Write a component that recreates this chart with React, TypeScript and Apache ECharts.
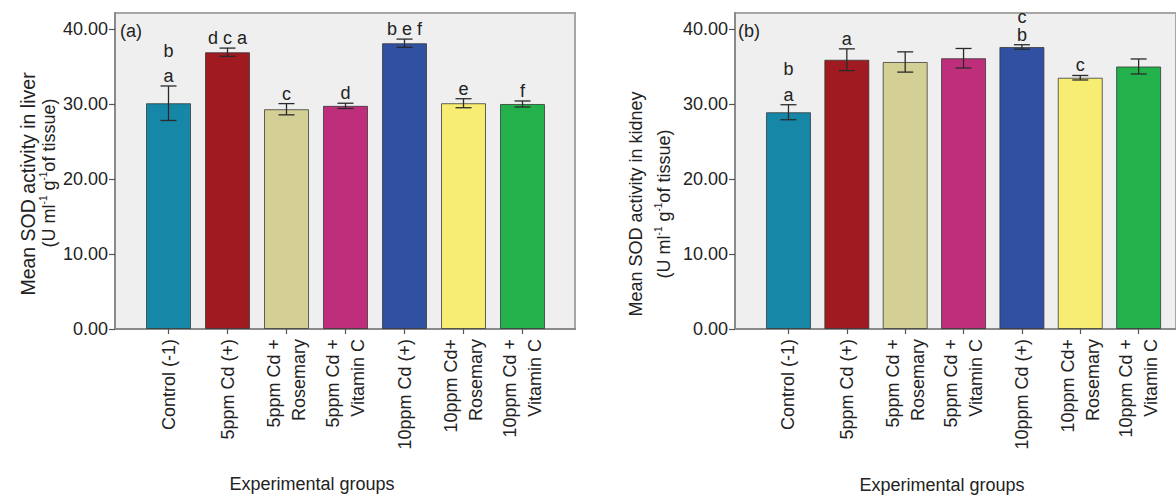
import React, { useEffect, useRef } from 'react';
import * as echarts from 'echarts';

const categories = [
  'Control (-1)',
  '5ppm Cd (+)',
  '5ppm Cd +\nRosemary',
  '5ppm Cd +\nVitamin C',
  '10ppm Cd (+)',
  '10ppm Cd+\nRosemary',
  '10ppm Cd +\nVitamin C',
];
const barColors = ['#1787a8', '#a01b21', '#d4cf94', '#be2e7b', '#3051a2', '#f8ed73', '#22b14b'];

const liverMeans = [30.1, 36.9, 29.3, 29.75, 38.1, 30.1, 30.0];
const liverErrors = [2.3, 0.55, 0.75, 0.35, 0.55, 0.6, 0.4];
const liverLettersLow = ['a', 'd c a', 'c', 'd', 'b e f', 'e', 'f'];
const liverLettersHigh = ['b', '', '', '', '', '', ''];

const kidneyMeans = [28.9, 35.9, 35.6, 36.1, 37.6, 33.5, 35.0];
const kidneyErrors = [1.0, 1.45, 1.35, 1.3, 0.3, 0.3, 1.0];
const kidneyLettersLow = ['a', 'a', '', '', 'b', 'c', ''];
const kidneyLettersHigh = ['b', '', '', '', 'c', '', ''];

const yTicks = [0, 10, 20, 30, 40];
const yMax = 42.13;

// layout/style (not data)
const liverStackGaps = [25, 0, 0, 0, 0, 0, 0];
const kidneyStackGaps = [26, 0, 0, 0, 18, 0, 0];
const FONT = "'Liberation Sans', Arial, sans-serif";
const TXT = '#222';

function makeErrRender(low: string[], high: string[], gaps: number[]) {
  return (params: any, api: any) => {
    const idx = params.dataIndex;
    const i = api.value(0);
    const lo = api.value(1);
    const hi = api.value(2);
    const top = api.coord([i, hi]);
    const bot = api.coord([i, lo]);
    const x = top[0];
    const cw = 8;
    const ls = { stroke: '#2a2a2a', lineWidth: 1.3 };
    const children: any[] = [
      { type: 'line', shape: { x1: x, y1: top[1], x2: x, y2: bot[1] }, style: ls },
      { type: 'line', shape: { x1: x - cw, y1: top[1], x2: x + cw, y2: top[1] }, style: ls },
      { type: 'line', shape: { x1: x - cw, y1: bot[1], x2: x + cw, y2: bot[1] }, style: ls },
    ];
    const ts = { fill: TXT, fontSize: 18, lineHeight: 14, fontFamily: FONT, align: 'center', verticalAlign: 'bottom' };
    if (low[idx]) {
      children.push({ type: 'text', x, y: top[1] - 3, style: { ...ts, text: low[idx] } });
    }
    if (high[idx]) {
      children.push({ type: 'text', x, y: top[1] - 3 - gaps[idx], style: { ...ts, text: high[idx] } });
    }
    return { type: 'group', children };
  };
}

function boxAxes(gridIndex: number) {
  return {
    x: {
      type: 'category', gridIndex, data: [''],
      axisLine: { show: true, lineStyle: { color: '#8a8a8a', width: 2 } },
      axisTick: { show: false }, axisLabel: { show: false }, splitLine: { show: false },
    },
    y: {
      type: 'value', gridIndex, min: 0, max: yMax, interval: 10,
      axisLine: { show: true, lineStyle: { color: '#8a8a8a', width: 2 } },
      axisTick: { show: true, length: 6, customValues: yTicks, lineStyle: { color: '#555', width: 1.2 } },
      axisLabel: {
        show: true, margin: 7, customValues: yTicks,
        formatter: (v: number) => v.toFixed(2), fontSize: 18, fontFamily: FONT, color: TXT,
      },
      splitLine: { show: false },
    },
  };
}

function barAxes(gridIndex: number) {
  return {
    x: {
      type: 'category', gridIndex, data: categories,
      axisLine: { show: false },
      axisTick: { show: true, alignWithLabel: true, length: 5, lineStyle: { color: '#555', width: 1.2 } },
      axisLabel: {
        rotate: 90, margin: 10, fontSize: 18, lineHeight: 25, fontFamily: FONT, color: TXT, interval: 0,
      },
    },
    y: { type: 'value', gridIndex, min: 0, max: yMax, show: false },
  };
}

function yTitle(x1: number, y1: number, x2: number, y2: number, line1: string, size1: number) {
  return [
    {
      type: 'text', x: x1, y: y1, rotation: Math.PI / 2,
      style: { text: line1, fill: TXT, fontSize: size1, fontFamily: FONT, align: 'center', verticalAlign: 'middle' },
    },
    {
      type: 'text', x: x2, y: y2, rotation: Math.PI / 2,
      style: {
        text: '{n|(U ml}{s|-1}{n| g}{s|-1}{n|of tissue)}',
        fill: TXT, fontFamily: FONT, align: 'center', verticalAlign: 'middle',
        rich: {
          n: { fontSize: 18, fontFamily: FONT, fill: TXT, verticalAlign: 'bottom', lineHeight: 20 },
          s: { fontSize: 10, fontFamily: FONT, fill: TXT, verticalAlign: 'top', lineHeight: 10 },
        },
      },
    },
  ];
}

export default function App() {
  const ref = useRef<HTMLDivElement>(null);
  useEffect(() => {
    if (!ref.current) return;
    const chart = echarts.init(ref.current, undefined, { renderer: 'svg' });
    const bA = boxAxes(0), pA = barAxes(1), bB = boxAxes(2), pB = barAxes(3);
    const barSeries = (xi: number, means: number[]) => ({
      type: 'bar', xAxisIndex: xi, yAxisIndex: xi, barWidth: 45,
      data: means.map((v, i) => ({ value: v, itemStyle: { color: barColors[i] } })),
      itemStyle: { borderColor: 'rgba(50,50,50,0.75)', borderWidth: 1 },
      z: 2,
    });
    const errSeries = (xi: number, means: number[], errs: number[], lo: string[], hi: string[], gaps: number[]) => ({
      type: 'custom', xAxisIndex: xi, yAxisIndex: xi,
      data: means.map((m, i) => [i, m - errs[i], m + errs[i]]),
      renderItem: makeErrRender(lo, hi, gaps),
      z: 5,
    });
    chart.setOption({
      animation: false,
      backgroundColor: '#ffffff',
      textStyle: { fontFamily: FONT },
      grid: [
        { left: 115, top: 13, width: 460, height: 316, show: true, backgroundColor: '#efeff0', borderColor: '#a6a6a6', borderWidth: 2 },
        { left: 139, top: 13, width: 413, height: 316 },
        { left: 735, top: 13, width: 460, height: 316, show: true, backgroundColor: '#efeff0', borderColor: '#a6a6a6', borderWidth: 2 },
        { left: 759.3, top: 13, width: 408.5, height: 316 },
      ],
      xAxis: [bA.x, pA.x, bB.x, pB.x],
      yAxis: [bA.y, pA.y, bB.y, pB.y],
      series: [
        barSeries(1, liverMeans),
        errSeries(1, liverMeans, liverErrors, liverLettersLow, liverLettersHigh, liverStackGaps),
        barSeries(3, kidneyMeans),
        errSeries(3, kidneyMeans, kidneyErrors, kidneyLettersLow, kidneyLettersHigh, kidneyStackGaps),
      ],
      graphic: [
        { type: 'text', x: 120, y: 31, style: { text: '(a)', fill: TXT, fontSize: 18, fontFamily: FONT, align: 'left', verticalAlign: 'middle' }, z: 10 },
        { type: 'text', x: 738, y: 31, style: { text: '(b)', fill: TXT, fontSize: 18, fontFamily: FONT, align: 'left', verticalAlign: 'middle' }, z: 10 },
        { type: 'text', x: 312, y: 484, style: { text: 'Experimental groups', fill: TXT, fontSize: 18, fontFamily: FONT, align: 'center', verticalAlign: 'middle' } },
        { type: 'text', x: 942, y: 485, style: { text: 'Experimental groups', fill: TXT, fontSize: 18, fontFamily: FONT, align: 'center', verticalAlign: 'middle' } },
        ...yTitle(28, 184, 48, 173, 'Mean SOD activity in liver', 19.5),
        ...yTitle(636, 204, 663, 204, 'Mean SOD activity in kidney', 18),
      ],
    });
    return () => chart.dispose();
  }, []);
  return <div ref={ref} style={{ position: 'absolute', left: 0, top: 0, width: 1176, height: 495 }} />;
}
